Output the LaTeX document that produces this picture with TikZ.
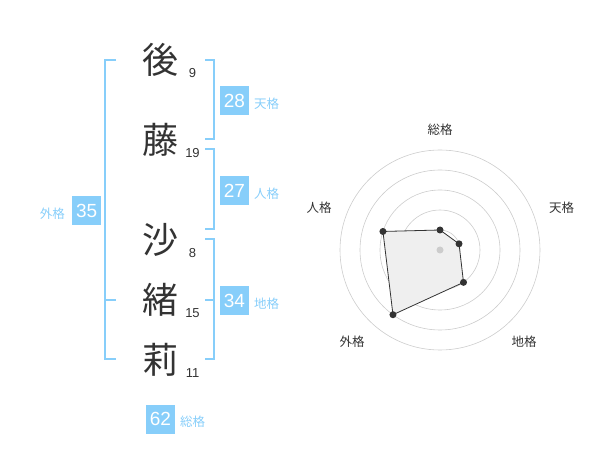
\documentclass[tikz,border=0pt]{standalone}
\usepackage{fontspec}
\setmainfont{Liberation Sans}
\newfontfamily\cjk{Noto Sans CJK JP}
\definecolor{sky}{HTML}{87CEFA}
\definecolor{ink}{HTML}{333333}
\definecolor{gridc}{HTML}{CCCCCC}
\definecolor{area}{HTML}{EFEFEF}
\begin{document}
\begin{tikzpicture}[x=1pt,y=-1pt,
 kanji/.style={font=\cjk\fontsize{36}{36}\selectfont, text=ink, inner sep=0pt},
 strokes/.style={font=\fontsize{13}{13}\selectfont, text=ink, inner sep=0pt},
 numbox/.style={fill=sky, text=white, minimum width=29pt, minimum height=29pt, inner sep=0pt, font=\fontsize{19}{19}\selectfont},
 kaku/.style={font=\cjk\fontsize{12.5}{12.5}\selectfont, text=sky, inner sep=0pt},
 bracket/.style={draw=sky, line width=2pt},
 axislabel/.style={font=\cjk\fontsize{12.5}{12.5}\selectfont, text=ink, inner sep=0pt},
 ring/.style={draw=gridc, line width=0.6pt},
 dot/.style={circle, fill=ink, inner sep=0pt, minimum size=7pt},
]
\useasboundingbox (0,0) rectangle (600,470);
% characters
\node[kanji] (k1) at (160,60) {後};
\node[kanji] (k2) at (160,140) {藤};
\node[kanji] (k3) at (160,240) {沙};
\node[kanji] (k4) at (160,300) {緒};
\node[kanji] (k5) at (160,360) {莉};
\node[strokes] (s1) at (192.5,72.7) {9};
\node[strokes] (s2) at (192.5,152.7) {19};
\node[strokes] (s3) at (192.5,253) {8};
\node[strokes] (s4) at (192.5,312.7) {15};
\node[strokes] (s5) at (192.5,372.7) {11};
% brackets
\coordinate (t1) at (205,60);  \coordinate (t2) at (214,60);
\coordinate (t3) at (214,139.5); \coordinate (t4) at (205,139.5);
\draw[bracket] (t1) -- (t2) -- (t3) -- (t4);
\coordinate (j1) at (205,149.5);  \coordinate (j2) at (214,149.5);
\coordinate (j3) at (214,229.5); \coordinate (j4) at (205,229.5);
\draw[bracket] (j1) -- (j2) -- (j3) -- (j4);
\coordinate (c1) at (205,239.5);  \coordinate (c2) at (214,239.5);
\coordinate (c3) at (214,359.5); \coordinate (c4) at (205,359.5);
\coordinate (c5) at (205,300); \coordinate (c6) at (214,300);
\draw[bracket] (c1) -- (c2) -- (c3) -- (c4);
\draw[bracket] (c5) -- (c6);
\coordinate (g1) at (116,60);  \coordinate (g2) at (105,60);
\coordinate (g3) at (105,359.5); \coordinate (g4) at (116,359.5);
\coordinate (g5) at (105,300); \coordinate (g6) at (116,300);
\draw[bracket] (g1) -- (g2) -- (g3) -- (g4);
\draw[bracket] (g5) -- (g6);
% boxes
\node[numbox] (b1) at (234.5,100.5) {28};
\node[kaku, anchor=west] (l1) at (254,104) {天格};
\node[numbox] (b2) at (234.5,190.5) {27};
\node[kaku, anchor=west] (l2) at (254,194) {人格};
\node[numbox] (b3) at (234.5,300.5) {34};
\node[kaku, anchor=west] (l3) at (254,304) {地格};
\node[numbox] (b4) at (86.7,210.5) {35};
\node[kaku, anchor=east] (l4) at (65,213.5) {外格};
\node[numbox] (b5) at (160.5,419) {62};
\node[kaku, anchor=west] (l5) at (180,422) {総格};
% radar
\coordinate (ctr) at (440,250);
\foreach \r in {20,40,60,80,100} \draw[ring] (ctr) circle[radius=\r];
\coordinate (p1) at ([shift={(440,250)}]-90:20);
\coordinate (p2) at ([shift={(440,250)}]-18:20);
\coordinate (p3) at ([shift={(440,250)}]54:40);
\coordinate (p4) at ([shift={(440,250)}]126:80);
\coordinate (p5) at ([shift={(440,250)}]198:60);
\filldraw[fill=area, draw=ink, line width=0.8pt] (p1) -- (p2) -- (p3) -- (p4) -- (p5) -- cycle;
\node[circle, fill=gridc, inner sep=0pt, minimum size=7pt] (cd) at (ctr) {};
\foreach \p in {p1,p2,p3,p4,p5} \node[dot] at (\p) {};
\node[axislabel] (a1) at (440,130) {総格};
\node[axislabel] (a2) at (561.5,208) {天格};
\node[axislabel] (a3) at (524,341.5) {地格};
\node[axislabel] (a4) at (352,341.5) {外格};
\node[axislabel] (a5) at (319,208) {人格};
\end{tikzpicture}
\end{document}
